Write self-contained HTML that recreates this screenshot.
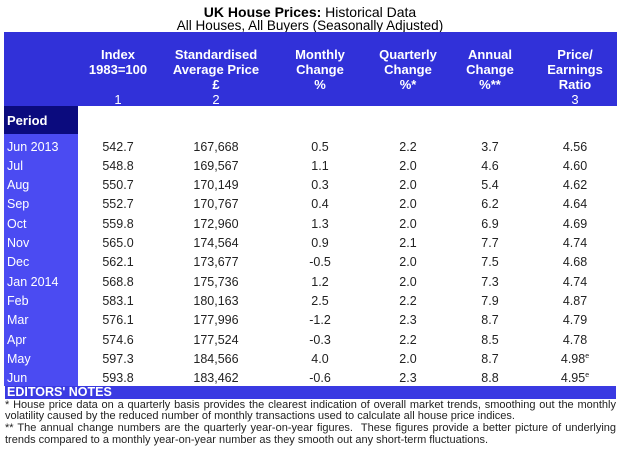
<!DOCTYPE html>
<html><head><meta charset="utf-8"><style>
body{margin:0;width:620px;height:450px;background:#fff;position:relative;font-family:"Liberation Sans",Arial,sans-serif;overflow:hidden}
.a{position:absolute;white-space:nowrap}
.c{transform:translateX(-50%)}
.h{color:#fff;font-weight:bold;font-size:13px;text-align:center;line-height:15px}
.d{font-size:12.5px;color:#222}
.p{font-size:12.5px;color:#fff;left:7px}
.n{position:absolute;left:5px;width:611px;font-size:11px;color:#222;text-align:justify;text-align-last:justify;line-height:11.5px}
</style></head><body>
<div class="a c" style="left:310px;top:4px;font-size:14px;"><b>UK House Prices:</b> Historical Data</div>
<div class="a c" style="left:310px;top:18px;font-size:13.5px;">All Houses, All Buyers (Seasonally Adjusted)</div>
<div class="a" style="left:4px;top:32px;width:613px;height:74px;background:#3131d9"></div>
<div class="a" style="left:4px;top:106px;width:74px;height:28px;background:#0b0b7e"></div>
<div class="a" style="left:4px;top:134px;width:74px;height:252px;background:#4b4bf2"></div>
<div class="a" style="left:5px;top:386px;width:611px;height:13px;background:#3a3ae2"></div>
<div class="a" style="left:7px;top:385px;font-size:12.5px;font-weight:bold;color:#fff">EDITORS' NOTES</div>
<div class="a" style="left:7px;top:113px;font-size:13px;font-weight:bold;color:#fff">Period</div>
<div class="a c h" style="left:118px;top:47px">Index<br>1983=100<br>&nbsp;<br><span style="font-weight:normal">1</span></div>
<div class="a c h" style="left:216px;top:47px">Standardised<br>Average Price<br>£<br><span style="font-weight:normal">2</span></div>
<div class="a c h" style="left:320px;top:47px">Monthly<br>Change<br>%</div>
<div class="a c h" style="left:408px;top:47px">Quarterly<br>Change<br>%*</div>
<div class="a c h" style="left:490px;top:47px">Annual<br>Change<br>%**</div>
<div class="a c h" style="left:575px;top:47px">Price/<br>Earnings<br>Ratio<br><span style="font-weight:normal">3</span></div>
<div id="rows"></div>
<script>
var r=[["Jun 2013","542.7","167,668","0.5","2.2","3.7","4.56"],["Jul","548.8","169,567","1.1","2.0","4.6","4.60"],["Aug","550.7","170,149","0.3","2.0","5.4","4.62"],["Sep","552.7","170,767","0.4","2.0","6.2","4.64"],["Oct","559.8","172,960","1.3","2.0","6.9","4.69"],["Nov","565.0","174,564","0.9","2.1","7.7","4.74"],["Dec","562.1","173,677","-0.5","2.0","7.5","4.68"],["Jan 2014","568.8","175,736","1.2","2.0","7.3","4.74"],["Feb","583.1","180,163","2.5","2.2","7.9","4.87"],["Mar","576.1","177,996","-1.2","2.3","8.7","4.79"],["Apr","574.6","177,524","-0.3","2.2","8.5","4.78"],["May","597.3","184,566","4.0","2.0","8.7","4.98<sup style='font-size:7px'>e</sup>"],["Jun","593.8","183,462","-0.6","2.3","8.8","4.95<sup style='font-size:7px'>e</sup>"]];
var xs=[118,216,320,408,490,575],h="";
for(var i=0;i<r.length;i++){var y=139.5+i*19.3;h+='<div class="a p" style="top:'+y+'px">'+r[i][0]+'</div>';for(var j=0;j<6;j++)h+='<div class="a c d" style="left:'+xs[j]+'px;top:'+y+'px">'+r[i][j+1]+'</div>';}
document.getElementById("rows").innerHTML=h;
</script>
<div class="n" style="top:400px">* House price data on a quarterly basis provides the clearest indication of overall market trends, smoothing out the monthly</div>
<div class="n" style="top:411px;text-align-last:left">volatility caused by the reduced number of monthly transactions used to calculate all house price indices.</div>
<div class="n" style="top:423px">** The annual change numbers are the quarterly year-on-year figures.&nbsp; These figures provide a better picture of underlying</div>
<div class="n" style="top:435px;text-align-last:left">trends compared to a monthly year-on-year number as they smooth out any short-term fluctuations.</div>
</body></html>
